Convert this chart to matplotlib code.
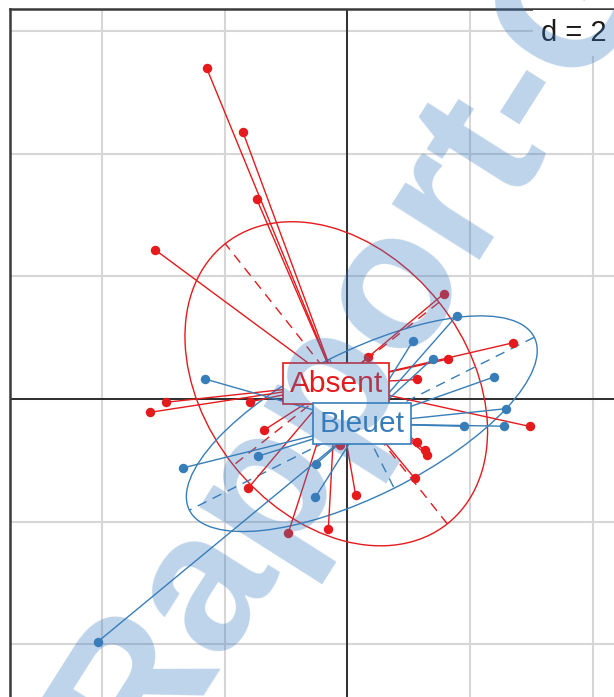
import numpy as np
import matplotlib
matplotlib.use("Agg")
import matplotlib.pyplot as plt
from matplotlib.patches import Ellipse

# Factor levels and their colours (Set1 red / blue)
groups = ["Absent", "Bleuet"]
group_colors = ["#E41A1C", "#377EB8"]

# Factorial coordinates of the individuals, by class
absent_x = [-2.294, -1.706, -1.482, -3.131, 1.569, 0.341, 2.708, 1.645, 1.138,
            2.977, -2.963, -3.219, -1.588, -1.355, -1.616, -0.964, -0.311,
            0.135, -0.113, 1.130, 1.260, 1.298, 1.097, 0.532, 0.368]
absent_y = [5.392, 4.358, 3.266, 2.429, 1.712, 0.677, 0.918, 0.652, 0.318,
            -0.448, -0.054, -0.217, -0.046, -0.505, -1.451, -2.185, -2.120,
            -1.573, -0.750, -0.696, -0.832, -0.905, -1.293, -0.342, -0.098]

bleuet_x = [-4.075, -2.322, 1.782, 1.065, 1.388, 2.390, 2.583, 2.553, 1.901,
            -2.686, -1.461, -0.512, -0.525, 0.580, 0.858]
bleuet_y = [-3.962, 0.326, 1.358, 0.941, 0.657, 0.359, -0.158, -0.444, -0.445,
            -1.125, -0.934, -1.060, -1.606, 0.228, -0.179]

grid_step = 2
ellipse_size = 1.42
watermark = "Rapport-Gratuit.com"

W, H, DPI = 614, 697, 100
fig = plt.figure(figsize=(W / DPI, H / DPI), dpi=DPI)

# panel in pixel units (right and bottom borders fall outside the canvas)
left_px, top_px, right_px, bottom_px = 9.5, 8.7, 640.0, 720.0
xlim = (-5.51, 4.771)
ylim = (-5.234, 6.364)
ax = fig.add_axes([left_px / W, 1 - bottom_px / H,
                   (right_px - left_px) / W, (bottom_px - top_px) / H])
ax.set_xlim(*xlim)
ax.set_ylim(*ylim)
ax.set_xticks([])
ax.set_yticks([])
for side in ("left", "top", "right", "bottom"):
    ax.spines[side].set_color("#3a3a3a")
    ax.spines[side].set_linewidth(1.8)

# background grid every d units through the origin
gx = np.arange(np.ceil(xlim[0] / grid_step), np.floor(xlim[1] / grid_step) + 1) * grid_step
gy = np.arange(np.ceil(ylim[0] / grid_step), np.floor(ylim[1] / grid_step) + 1) * grid_step
for v in gx:
    ax.axvline(v, color="#d6d6d6", lw=1.5, zorder=0.5)
for v in gy:
    ax.axhline(v, color="#d6d6d6", lw=1.5, zorder=0.5)
ax.axvline(0, color="black", lw=1.1, zorder=1)
ax.axhline(0, color="black", lw=1.1, zorder=1)


def class_summary(x, y, coef):
    pts = np.vstack([x, y])
    centre = pts.mean(axis=1)
    cov = np.cov(pts, bias=True)
    vals, vecs = np.linalg.eigh(cov)
    order = np.argsort(vals)[::-1]
    vals, vecs = vals[order], vecs[:, order]
    half_axes = coef * np.sqrt(vals)
    return centre, half_axes, vecs


classes = [(absent_x, absent_y), (bleuet_x, bleuet_y)]
centres = []
for (xs, ys), col in zip(classes, group_colors):
    xs = np.asarray(xs)
    ys = np.asarray(ys)
    c, half, vecs = class_summary(xs, ys, ellipse_size)
    centres.append(c)
    angle = np.degrees(np.arctan2(vecs[1, 0], vecs[0, 0]))
    ax.add_patch(Ellipse(c, 2 * half[0], 2 * half[1], angle=angle,
                         fill=False, ec=col, lw=1.0, zorder=2))
    for k in range(2):
        p0 = c - half[k] * vecs[:, k]
        p1 = c + half[k] * vecs[:, k]
        ax.plot([p0[0], p1[0]], [p0[1], p1[1]], color=col, lw=1.0,
                ls=(0, (7, 5)), zorder=2)
    for px, py in zip(xs, ys):
        ax.plot([c[0], px], [c[1], py], color=col, lw=1.0, zorder=3)
    ax.plot(xs, ys, "o", color=col, ms=6.8, mec="none", zorder=4)

for name, c, col in zip(groups, centres, group_colors):
    ax.text(c[0], c[1], name, ha="center", va="center", color=col,
            fontsize=21.5, family="Liberation Sans", zorder=6,
            bbox=dict(boxstyle="square,pad=0.22", fc="white", ec=col, lw=1.2))

# scale legend in the top-right corner
ax.text((607 - left_px) / (right_px - left_px), 1 - (33 - top_px) / (bottom_px - top_px),
        "d = 2", transform=ax.transAxes, ha="right", va="center",
        fontsize=21, family="Liberation Sans", color="#1a1a1a", zorder=7,
        bbox=dict(boxstyle="square,pad=0.3", fc="white", ec="none"))

# diagonal watermark over the figure
fig.text(141 / W, (H - 773) / H, watermark, rotation=57.6,
         rotation_mode="anchor", ha="left", va="baseline",
         fontsize=141, fontweight="bold", family="Liberation Sans",
         color="#3a7cc2", alpha=0.33, zorder=10)

fig.savefig("out.png", dpi=DPI)
